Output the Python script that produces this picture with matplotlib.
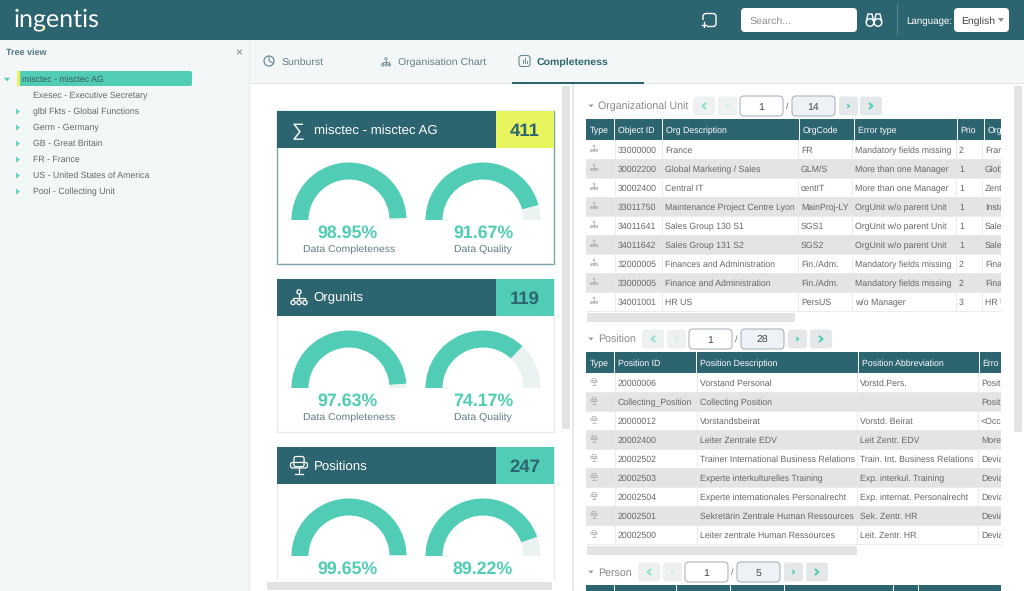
import matplotlib
matplotlib.use('Agg')
import matplotlib.pyplot as plt
from matplotlib.patches import Rectangle, FancyBboxPatch, Polygon, Circle

DARK = '#2c6470'
TEAL = '#50cdb4'
YELLOW = '#e8f55f'
PALE = '#ebf3f2'
PANEL = '#f4f7f8'
STRIPE = '#e4e4e4'
GREY = '#666666'

tree_labels = ['misctec - misctec AG', 'Exesec - Executive Secretary', 'glbl Fkts - Global Functions',
               'Germ - Germany', 'GB - Great Britain', 'FR - France',
               'US - United States of America', 'Pool - Collecting Unit']
tab_labels = ['Sunburst', 'Organisation Chart', 'Completeness']

card_titles = ['misctec - misctec AG', 'Orgunits', 'Positions']
card_counts = [411, 119, 247]
completeness = [98.95, 97.63, 99.65]
quality = [91.67, 74.17, 89.22]

org_header = ['Type', 'Object ID', 'Org Description', 'OrgCode', 'Error type', 'Prio', 'Org']
org_ids = ['33000000', '30002200', '30002400', '33011750', '34011641', '34011642', '32000005', '33000005', '34001001']
org_desc = ['France', 'Global Marketing / Sales', 'Central IT', 'Maintenance Project Centre Lyon',
            'Sales Group 130 S1', 'Sales Group 131 S2', 'Finances and Administration',
            'Finance and Administration', 'HR US']
org_code = ['FR', 'GLM/S', 'centIT', 'MainProj-LY', 'SGS1', 'SGS2', 'Fin./Adm.', 'Fin./Adm.', 'PersUS']
org_error = ['Mandatory fields missing', 'More than one Manager', 'More than one Manager',
             'OrgUnit w/o parent Unit', 'OrgUnit w/o parent Unit', 'OrgUnit w/o parent Unit',
             'Mandatory fields missing', 'Mandatory fields missing', 'w/o Manager']
org_prio = ['2', '1', '1', '1', '1', '1', '2', '2', '3']
org_last = ['Fran', 'Glob', 'Zent', 'Insta', 'Sale', 'Sale', 'Fina', 'Fina', 'HR U']

pos_header = ['Type', 'Position ID', 'Position Description', 'Position Abbreviation', 'Erro']
pos_ids = ['20000006', 'Collecting_Position', '20000012', '20002400', '20002502', '20002503',
           '20002504', '20002501', '20002500']
pos_desc = ['Vorstand Personal', 'Collecting Position', 'Vorstandsbeirat', 'Leiter Zentrale EDV',
            'Trainer International Business Relations', 'Experte interkulturelles Training',
            'Experte internationales Personalrecht', 'Sekretärin Zentrale Human Ressources',
            'Leiter zentrale Human Ressources']
pos_abbr = ['Vorstd.Pers.', '', 'Vorstd. Beirat', 'Leit Zentr. EDV', 'Train. Int. Business Relations',
            'Exp. interkul. Training', 'Exp. internat. Personalrecht', 'Sek. Zentr. HR', 'Leit. Zentr. HR']
pos_last = ['Posit', 'Posit', '<Occ', 'More', 'Devia', 'Devia', 'Devia', 'Devia', 'Devia']

org_edges = [586, 614, 662, 799, 854, 957, 984, 1001]
org_body_edges = [586, 614.5, 662, 798, 852, 956, 982, 1001]
pos_edges = [586, 614, 696, 858, 979, 1001]
pos_body_edges = [586, 614.5, 696.5, 857, 978, 1001]
person_edges = [586, 614, 676, 730, 784, 893, 918, 1001]

plt.rcParams['font.family'] = ['Liberation Sans', 'DejaVu Sans']
plt.rcParams['text.hinting'] = 'none'

fig = plt.figure(figsize=(10.24, 5.91), dpi=100)
ax = fig.add_axes([0, 0, 1, 1])
ax.set_xlim(0, 1024)
ax.set_ylim(591, 0)
ax.axis('off')


def rect(x0, y0, x1, y1, fc, ec='none', lw=0, z=1):
    ax.add_patch(Rectangle((x0, y0), x1 - x0, y1 - y0, fc=fc, ec=ec, lw=lw, zorder=z))


def rbox(x0, y0, x1, y1, fc, ec='none', lw=0, r=3, z=2):
    ax.add_patch(FancyBboxPatch((x0, y0), x1 - x0, y1 - y0, boxstyle=f'round,pad=0,rounding_size={r}',
                                fc=fc, ec=ec, lw=lw, zorder=z))


def txt(x, y, s, px=8.8, color=GREY, ha='left', weight='normal', z=5, **kw):
    # baseline anchor keeps rows level whatever letters they hold
    ax.text(x, y + 0.36 * px, s, fontsize=px * 0.72, color=color, ha=ha, va='baseline',
            weight=weight, zorder=z, **kw)


def tri(x, y, kind, size=3, color=TEAL):
    if kind == 'right':
        pts = [(x - size * 0.6, y - size), (x - size * 0.6, y + size), (x + size * 0.6, y)]
    else:
        pts = [(x - size, y - size * 0.6), (x + size, y - size * 0.6), (x, y + size * 0.6)]
    ax.add_patch(Polygon(pts, fc=color, ec='none', zorder=5))


def chevron(x, y, direction, size, color, lw=1.4):
    # direction is -1 for left, 1 for right
    ax.plot([x - direction * size * 0.6, x + direction * size * 0.6, x - direction * size * 0.6],
            [y - size, y, y + size], color=color, lw=lw, zorder=5, solid_capstyle='round')


def org_icon(cx, cy, s, color, lw=0.8):
    # one node on top, three below
    ax.plot([cx, cx], [cy - s * 0.5, cy + s * 0.4], color=color, lw=lw, zorder=5)
    ax.plot([cx - s * 0.85, cx - s * 0.85, cx + s * 0.85, cx + s * 0.85],
            [cy + s * 0.4, cy + s * 0.05, cy + s * 0.05, cy + s * 0.4], color=color, lw=lw, zorder=5)
    for dx, dy in [(0, -0.8), (-0.85, 0.72), (0, 0.72), (0.85, 0.72)]:
        ax.add_patch(Circle((cx + dx * s, cy + dy * s), s * 0.3, fc='none', ec=color, lw=lw, zorder=5))


def seat_icon(cx, cy, s, color, lw=0.8):
    rbox(cx - s * 0.6, cy - s, cx + s * 0.6, cy + s * 0.2, 'none', color, lw, r=s * 0.25, z=5)
    rbox(cx - s, cy - s * 0.3, cx + s, cy + s * 0.35, 'none', color, lw, r=s * 0.25, z=5)
    ax.plot([cx, cx], [cy + s * 0.35, cy + s * 0.95], color=color, lw=lw, zorder=5)
    ax.plot([cx - s * 0.5, cx + s * 0.5], [cy + s, cy + s], color=color, lw=lw, zorder=5)


def gauge(cx, base, pct):
    # half doughnut: the hidden third slice is the lower half of the pie
    r = 57.5
    g = fig.add_axes([(cx - r) / 1024, 1 - (base + r) / 591, 2 * r / 1024, 2 * r / 591])
    g.pie([pct, 100 - pct, 100], colors=[TEAL, PALE, 'none'], startangle=180, counterclock=False,
          radius=1, wedgeprops={'width': 17 / r, 'linewidth': 0})
    g.set_xlim(-1, 1)
    g.set_ylim(-1, 1)
    g.axis('off')


def pager(y, title, xs, total):
    tri(591, y, 'down', 2.5, '#999999')
    txt(598, y, title, 10.6, '#8a8a8a')
    top, bot = y - 9.5, y + 9.5
    rbox(xs[0], top, xs[0] + 22, bot, '#eef1f1', r=3)
    rbox(xs[1], top, xs[1] + 19, bot, '#eef1f1', r=3)
    rbox(xs[2], top - 0.5, xs[2] + 43, bot + 0.5, 'white', '#aab4bd', 0.8, r=4)
    txt(xs[2] + 47.5, y, '/', 9, GREY, ha='center')
    rbox(xs[3], top - 0.5, xs[3] + 43, bot + 0.5, '#eef1f5', '#aab4bd', 0.8, r=4)
    rbox(xs[4], top, xs[4] + 19, bot, '#e4e8ea', r=3)
    rbox(xs[5], top, xs[5] + 22, bot, '#e4e8ea', r=3)
    txt(xs[2] + 21.5, y, '1', 10.5, '#444444', ha='center')
    txt(xs[3] + 21.5, y, total, 10.5, '#444444', ha='center')
    chevron(xs[0] + 11, y, -1, 2.6, '#8fe0cd')
    chevron(xs[1] + 9.5, y, -1, 1.6, '#cdeee6', 1)
    chevron(xs[4] + 9.5, y, 1, 1.6, TEAL, 1)
    chevron(xs[5] + 11, y, 1, 2.6, TEAL)


def table(top, edges, body_edges, header, columns, icon):
    rect(edges[0], top, edges[-1], top + 21, DARK)
    for e in edges[1:-1]:
        ax.plot([e, e], [top, top + 21], color='white', lw=0.7, zorder=3)
    for x, h in zip(edges[:-1], header):
        txt(x + 3.5, top + 10.5, h, 8.8, 'white')
    first = top + 21
    for i in range(len(columns[0])):
        y0 = first + 19 * i
        rect(edges[0], y0, edges[-1], y0 + 19, STRIPE if i % 2 else 'white')
        ax.plot([edges[0], edges[-1]], [y0 + 19, y0 + 19], color='#e8e8e8', lw=0.6, zorder=2)
        icon(edges[0] + 8, y0 + 8.5, 3.2, '#a8a8a8', 0.45)
        for x, col in zip(body_edges[1:-1], columns):
            txt(x + 3, y0 + 9.5, col[i], 8.8)
    for e in body_edges[1:-1]:
        ax.plot([e, e], [first, first + 19 * len(columns[0])], color='#e8e8e8', lw=0.6, zorder=3)


# page frame
rect(0, 0, 1024, 591, 'white', z=0)
rect(0, 39, 249, 591, PANEL)
rect(249, 39, 250, 591, '#e6e8e9')
rect(250, 39, 1024, 83, PANEL)
rect(250, 83, 1024, 84, '#e4e6e6')
rect(0, 0, 1024, 39.5, DARK)

# top bar
ax.text(14, 19.5, 'ingentis', fontsize=18, color='white', family='Lato', ha='left', va='center', zorder=5)
ax.add_patch(Circle((43.5, 29), 1.2, fc=YELLOW, ec='none', zorder=6))
rbox(703, 13.5, 716, 26.5, 'none', 'white', 1, r=3)
rect(701, 20, 707, 28, DARK, z=3)
ax.plot([704, 704], [22, 27], color='white', lw=1, zorder=5)
ax.plot([702, 706], [25, 25], color='white', lw=1, zorder=5)
rect(732.5, 4, 733, 35, '#5b8791')
rect(897, 4, 897.5, 35, '#5b8791')
rbox(741, 8, 857, 32, 'white', r=4)
txt(749.5, 20, 'Search...', 10.5, '#8f8f8f')
for bx in [870, 878]:
    ax.add_patch(Circle((bx, 22.5), 3.8, fc='none', ec='white', lw=1, zorder=5))
    ax.plot([bx - 3.6, bx - 2, bx + 2, bx + 3.6], [21, 14, 14, 21], color='white', lw=1, zorder=5)
txt(906, 20, 'Language:', 9.8, 'white')
rbox(954, 8, 1009, 32, 'white', r=4)
txt(961, 20, 'English', 10.4, '#444444')
tri(1001, 20, 'down', 3, '#888888')

# tree panel
txt(6, 51.5, 'Tree view', 9, '#4d7480', weight='bold')
txt(239, 52, '×', 12, '#808080', ha='center')
rbox(17, 71, 192, 86, TEAL, r=2)
rect(17, 71, 20, 86, YELLOW, z=3)
txt(22, 79, tree_labels[0], 8.8, '#3c5a5c')
tri(7, 79.5, 'down', 3)
for i, label in enumerate(tree_labels[1:]):
    y = 95 + 16 * i
    txt(33, y, label, 8.8, GREY)
    if i > 0:
        tri(18, y + 0.5, 'right', 3)

# tabs
ax.add_patch(Circle((269, 61), 5, fc='none', ec='#6d8a92', lw=0.9, zorder=5))
ax.plot([269, 269, 273], [57, 61, 63], color='#6d8a92', lw=0.8, zorder=5)
txt(282, 61, tab_labels[0], 10.5, '#5f7f88')
org_icon(386, 62, 4, '#6d8a92', 0.6)
txt(398, 61, tab_labels[1], 10.5, '#5f7f88')
rbox(519, 55.5, 530, 66.5, 'none', '#6d8a92', 0.8, r=2.5)
for bar_x, bar_top in [(522.5, 60), (524.5, 58), (526.5, 61)]:
    ax.plot([bar_x, bar_x], [bar_top, 63], color='#6d8a92', lw=0.7, zorder=5)
txt(537, 61, tab_labels[2], 10.5, DARK, weight='bold')
rect(512, 81.5, 644, 83.5, DARK, z=3)

# scrollbars and divider
rect(572, 84, 573.5, 591, '#e8e8e8')
rbox(562, 86, 570, 429, '#e3e3e3', r=1)
rbox(1014, 86, 1022, 432, '#e3e3e3', r=1)

# summary cards
card_tops = [111, 279, 447]
for i, top in enumerate(card_tops):
    bottom = min(top + 153, 600)
    edge = '#7fa3aa' if i == 0 else '#e6eaea'
    rect(276.5, top, 554, bottom, 'white', edge, 1)
    rect(276.5, top, 554, top + 36.5, DARK, z=2)
    rect(496, top, 554, top + 36.5, YELLOW if i == 0 else TEAL, z=3)
    txt(525, top + 18.5, str(card_counts[i]), 18.5, DARK, ha='center', weight='bold')
    txt(313.5, top + 18, card_titles[i], 13.3, 'white')
    base = top + 109
    gauge(349, base, completeness[i])
    gauge(483, base, quality[i])
    txt(348, base + 11.5, f'{completeness[i]:.2f}%', 17.8, TEAL, ha='center', weight='bold')
    txt(483, base + 11.5, f'{quality[i]:.2f}%', 17.8, TEAL, ha='center', weight='bold')
    if i < 2:
        txt(349, base + 28.5, 'Data Completeness', 10.5, '#5f7f88', ha='center')
        txt(483, base + 28.5, 'Data Quality', 10.5, '#5f7f88', ha='center')
txt(298.5, 130, '∑', 18, 'white', ha='center')
org_icon(299, 297.5, 7, 'white', 0.9)
seat_icon(299, 465, 8.5, 'white', 0.9)
rect(250, 580, 560, 591, 'white', z=3)
rbox(267, 582, 552, 590, '#e3e3e3', r=1, z=4)

# right hand tables
pager(106, 'Organizational Unit', [693, 718, 740, 792, 839, 860], '14')
table(119, org_edges, org_body_edges, org_header, [org_ids, org_desc, org_code, org_error, org_prio, org_last], org_icon)
rbox(587, 313, 795, 322, '#e3e3e3', r=1)

pager(339, 'Position', [642, 667, 689, 741, 788, 810], '28')
table(352, pos_edges, pos_body_edges, pos_header, [pos_ids, pos_desc, pos_abbr, pos_last], seat_icon)
rbox(587, 546, 857, 555, '#e3e3e3', r=1)

pager(572, 'Person', [638, 663, 685, 737, 784, 806], '5')
rect(person_edges[0], 585, person_edges[-1], 591, DARK)
for e in person_edges[1:-1]:
    ax.plot([e, e], [585, 591], color='white', lw=0.7, zorder=3)

# cut the tables at the panel edge
rect(1001, 115, 1013, 591, 'white', z=6)

fig.savefig('out.png', dpi=100)
